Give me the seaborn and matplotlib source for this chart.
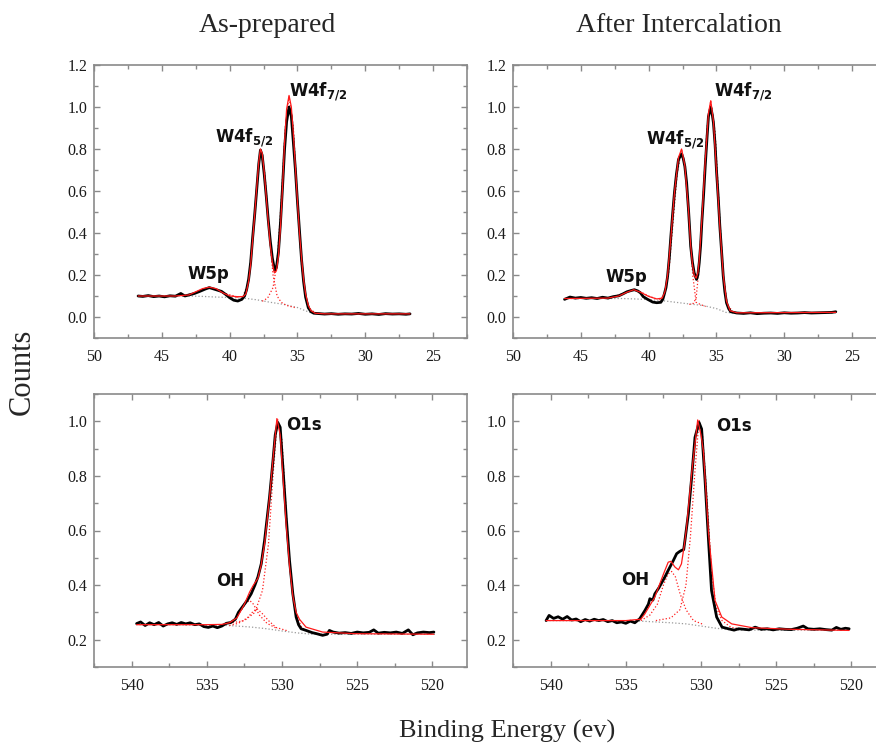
import matplotlib
matplotlib.use("Agg")
import matplotlib.pyplot as plt
import seaborn as sns
import pandas as pd
from matplotlib.ticker import MultipleLocator

# ---------------- data ----------------
panel_titles = ["As-prepared", "After Intercalation"]
x_label = "Binding Energy (ev)"
y_label = "Counts"

w_xticks = [50, 45, 40, 35, 30, 25]
w_yticks = [0.0, 0.2, 0.4, 0.6, 0.8, 1.0, 1.2]
o_xticks = [540, 535, 530, 525, 520]
o_yticks = [0.2, 0.4, 0.6, 0.8, 1.0]

# W4f region, as-prepared: measured counts (black)
tl_counts = [(46.75, 0.100), (46.4, 0.098), (46.0, 0.102), (45.6, 0.097), (45.2, 0.100),
             (44.8, 0.096), (44.4, 0.101), (44.0, 0.099), (43.6, 0.112), (43.3, 0.100),
             (43.0, 0.105), (42.6, 0.112), (42.2, 0.122), (41.8, 0.133), (41.5, 0.140),
             (41.2, 0.134), (40.9, 0.128), (40.6, 0.122), (40.3, 0.108), (40.0, 0.092),
             (39.7, 0.080), (39.4, 0.076), (39.1, 0.084), (38.9, 0.100), (38.75, 0.130),
             (38.6, 0.180), (38.45, 0.260), (38.3, 0.380), (38.15, 0.490), (38.0, 0.610),
             (37.85, 0.730), (37.73, 0.795), (37.6, 0.770), (37.45, 0.680), (37.3, 0.575),
             (37.15, 0.460), (37.0, 0.360), (36.85, 0.280), (36.68, 0.223), (36.55, 0.235),
             (36.4, 0.310), (36.25, 0.450), (36.1, 0.620), (35.95, 0.800), (35.8, 0.930),
             (35.62, 1.000), (35.45, 0.955), (35.3, 0.830), (35.15, 0.700), (35.0, 0.550),
             (34.85, 0.410), (34.7, 0.274), (34.55, 0.170), (34.4, 0.095), (34.2, 0.044),
             (34.0, 0.025), (33.8, 0.018), (33.4, 0.016), (33.0, 0.014), (32.5, 0.016),
             (32.0, 0.013), (31.5, 0.015), (31.0, 0.014), (30.5, 0.017), (30.0, 0.013),
             (29.5, 0.015), (29.0, 0.012), (28.5, 0.016), (28.0, 0.014), (27.5, 0.015),
             (27.0, 0.013), (26.7, 0.015)]
# fitted envelope (red)
tl_fit = [(46.75, 0.100), (44.0, 0.100), (43.0, 0.105), (42.5, 0.120), (42.0, 0.135),
          (41.5, 0.142), (41.0, 0.135), (40.5, 0.115), (40.0, 0.100), (39.5, 0.097),
          (39.0, 0.097), (38.8, 0.110), (38.6, 0.170), (38.45, 0.250), (38.3, 0.370),
          (38.15, 0.490), (38.0, 0.620), (37.85, 0.740), (37.73, 0.800), (37.6, 0.780),
          (37.45, 0.690), (37.3, 0.570), (37.15, 0.450), (37.0, 0.340), (36.85, 0.260),
          (36.7, 0.210), (36.55, 0.220), (36.4, 0.290), (36.25, 0.430), (36.1, 0.620),
          (35.95, 0.830), (35.8, 0.990), (35.62, 1.055), (35.45, 1.000), (35.3, 0.870),
          (35.15, 0.710), (35.0, 0.550), (34.85, 0.400), (34.7, 0.280), (34.55, 0.180),
          (34.4, 0.110), (34.2, 0.055), (34.0, 0.030), (33.7, 0.018), (33.0, 0.015),
          (26.7, 0.015)]
# fitted components (red dotted) and background (grey dotted)
tl_bg = [(46.7, 0.100), (43.0, 0.100), (42.0, 0.098), (41.0, 0.095), (40.0, 0.093),
         (39.0, 0.090), (38.0, 0.082), (37.0, 0.070), (36.0, 0.060), (35.0, 0.045),
         (34.5, 0.032), (34.0, 0.020), (33.0, 0.015), (26.7, 0.015)]
tl_w5p = [(43.5, 0.100), (42.5, 0.115), (42.0, 0.130), (41.5, 0.140), (41.0, 0.130),
          (40.5, 0.115), (39.5, 0.097)]
tl_w4f52 = [(39.5, 0.093), (39.0, 0.100), (38.6, 0.170), (38.3, 0.380), (38.0, 0.620),
            (37.73, 0.800), (37.4, 0.680), (37.1, 0.420), (36.8, 0.200), (36.5, 0.100),
            (36.2, 0.070), (35.8, 0.055), (35.2, 0.045)]
tl_w4f72 = [(37.6, 0.075), (37.2, 0.090), (36.8, 0.140), (36.5, 0.260), (36.2, 0.550),
            (35.9, 0.900), (35.62, 1.050), (35.3, 0.900), (35.0, 0.550), (34.7, 0.250),
            (34.4, 0.090), (34.1, 0.040), (33.7, 0.020)]

# W4f region, after intercalation
tr_counts = [(46.2, 0.084), (45.8, 0.095), (45.4, 0.090), (45.0, 0.093), (44.6, 0.089),
             (44.2, 0.092), (43.8, 0.088), (43.4, 0.094), (43.0, 0.090), (42.6, 0.097),
             (42.2, 0.101), (41.9, 0.110), (41.6, 0.120), (41.3, 0.126), (41.05, 0.130),
             (40.8, 0.124), (40.6, 0.115), (40.4, 0.097), (40.1, 0.085), (39.7, 0.071),
             (39.4, 0.068), (39.1, 0.070), (38.95, 0.085), (38.85, 0.108), (38.72, 0.140),
             (38.6, 0.195), (38.48, 0.280), (38.36, 0.385), (38.23, 0.490), (38.1, 0.590),
             (37.95, 0.680), (37.8, 0.750), (37.57, 0.777), (37.45, 0.755), (37.33, 0.717),
             (37.2, 0.640), (37.05, 0.500), (36.9, 0.337), (36.77, 0.260), (36.64, 0.210),
             (36.47, 0.179), (36.37, 0.200), (36.27, 0.258), (36.17, 0.340), (36.08, 0.448),
             (35.95, 0.580), (35.83, 0.717), (35.7, 0.850), (35.59, 0.955), (35.42, 1.000),
             (35.3, 0.960), (35.22, 0.923), (35.1, 0.820), (35.0, 0.700), (34.87, 0.570),
             (34.75, 0.432), (34.62, 0.310), (34.5, 0.195), (34.38, 0.120), (34.26, 0.068),
             (34.1, 0.040), (33.95, 0.025), (33.5, 0.019), (33.0, 0.017), (32.5, 0.020),
             (32.0, 0.016), (31.5, 0.018), (31.0, 0.019), (30.5, 0.017), (30.0, 0.020),
             (29.5, 0.018), (29.0, 0.019), (28.5, 0.021), (28.0, 0.019), (27.5, 0.020),
             (27.0, 0.021), (26.5, 0.022), (26.2, 0.025)]
tr_fit = [(46.2, 0.088), (43.0, 0.090), (42.2, 0.100), (41.6, 0.118), (41.1, 0.130),
          (40.6, 0.118), (40.0, 0.098), (39.4, 0.086), (39.0, 0.090), (38.8, 0.120),
          (38.6, 0.200), (38.36, 0.380), (38.1, 0.590), (37.8, 0.760), (37.57, 0.800),
          (37.33, 0.720), (37.05, 0.500), (36.9, 0.340), (36.77, 0.250), (36.64, 0.200),
          (36.5, 0.185), (36.37, 0.210), (36.27, 0.270), (36.08, 0.460), (35.83, 0.740),
          (35.59, 0.970), (35.42, 1.030), (35.22, 0.930), (35.0, 0.700), (34.75, 0.430),
          (34.5, 0.200), (34.26, 0.075), (34.0, 0.030), (33.5, 0.020), (26.2, 0.022)]
tr_bg = [(46.2, 0.088), (42.0, 0.088), (41.0, 0.086), (40.0, 0.083), (39.0, 0.078),
         (38.0, 0.070), (37.0, 0.062), (36.0, 0.055), (35.0, 0.040), (34.3, 0.022),
         (33.5, 0.018), (26.2, 0.020)]
tr_w5p = [(43.0, 0.090), (42.2, 0.105), (41.6, 0.120), (41.1, 0.130), (40.6, 0.120),
          (40.0, 0.100), (39.4, 0.085)]
tr_w4f52 = [(39.2, 0.080), (38.8, 0.110), (38.5, 0.220), (38.2, 0.450), (37.9, 0.680),
            (37.57, 0.800), (37.3, 0.700), (37.0, 0.450), (36.75, 0.200), (36.5, 0.070),
            (36.2, 0.060), (35.8, 0.050)]
tr_w4f72 = [(37.0, 0.060), (36.7, 0.065), (36.5, 0.090), (36.3, 0.220), (36.0, 0.550),
            (35.7, 0.900), (35.42, 1.030), (35.1, 0.880), (34.8, 0.520), (34.5, 0.200),
            (34.2, 0.060), (33.8, 0.025)]

# O1s region, as-prepared
bl_counts = [(539.67, 0.259), (539.4, 0.265), (539.1, 0.252), (538.8, 0.262), (538.5, 0.255),
             (538.2, 0.263), (537.9, 0.250), (537.6, 0.258), (537.3, 0.262), (537.0, 0.256),
             (536.7, 0.263), (536.4, 0.258), (536.1, 0.262), (535.8, 0.255), (535.5, 0.258),
             (535.2, 0.248), (534.9, 0.245), (534.6, 0.250), (534.3, 0.244), (534.0, 0.250),
             (533.7, 0.260), (533.4, 0.263), (533.1, 0.275), (532.9, 0.300), (532.7, 0.315),
             (532.5, 0.330), (532.3, 0.345), (532.05, 0.368), (531.8, 0.400), (531.6, 0.430),
             (531.38, 0.478), (531.16, 0.563), (531.0, 0.640), (530.83, 0.722), (530.6, 0.856),
             (530.45, 0.950), (530.28, 0.996), (530.12, 0.978), (530.0, 0.880), (529.94, 0.832),
             (529.72, 0.649), (529.5, 0.490), (529.28, 0.368), (529.06, 0.283), (528.9, 0.255),
             (528.73, 0.240), (528.4, 0.234), (528.0, 0.226), (527.7, 0.222), (527.3, 0.216),
             (527.0, 0.220), (526.85, 0.234), (526.6, 0.228), (526.2, 0.224), (525.8, 0.226),
             (525.4, 0.223), (525.0, 0.228), (524.6, 0.225), (524.2, 0.227), (523.9, 0.236),
             (523.6, 0.224), (523.2, 0.227), (522.8, 0.225), (522.4, 0.228), (522.0, 0.223),
             (521.6, 0.236), (521.3, 0.218), (521.0, 0.225), (520.6, 0.228), (520.2, 0.226),
             (519.9, 0.228)]
bl_fit = [(539.67, 0.255), (535.0, 0.255), (534.0, 0.256), (533.5, 0.262), (533.0, 0.280),
          (532.8, 0.300), (532.5, 0.330), (532.15, 0.375), (531.9, 0.400), (531.6, 0.425),
          (531.4, 0.470), (531.16, 0.550), (530.83, 0.720), (530.6, 0.860), (530.34, 1.010),
          (530.12, 0.950), (529.94, 0.800), (529.72, 0.620), (529.5, 0.470), (529.28, 0.360),
          (529.06, 0.300), (528.84, 0.275), (528.4, 0.246), (527.3, 0.228), (525.1, 0.222),
          (519.9, 0.220)]
bl_bg = [(539.7, 0.255), (534.0, 0.253), (533.0, 0.250), (532.0, 0.246), (531.0, 0.240),
         (530.0, 0.232), (529.0, 0.225), (528.0, 0.220), (527.0, 0.220), (519.8, 0.220)]
bl_o1s = [(533.5, 0.260), (532.5, 0.270), (531.8, 0.300), (531.3, 0.380), (530.9, 0.550),
          (530.6, 0.800), (530.3, 1.010), (530.0, 0.930), (529.7, 0.650), (529.4, 0.420),
          (529.1, 0.300), (528.7, 0.245), (528.2, 0.228), (527.5, 0.222)]
bl_oh1 = [(534.0, 0.255), (533.3, 0.265), (532.8, 0.300), (532.4, 0.335), (532.15, 0.344),
          (531.9, 0.330), (531.5, 0.290), (531.0, 0.260), (530.3, 0.240)]
bl_oh2 = [(533.5, 0.252), (532.9, 0.260), (532.3, 0.280), (531.9, 0.305), (531.65, 0.313),
          (531.3, 0.295), (530.9, 0.270), (530.4, 0.245), (529.6, 0.232)]

# O1s region, after intercalation
br_counts = [(540.3, 0.270), (540.1, 0.289), (539.8, 0.278), (539.5, 0.284), (539.2, 0.275),
             (538.9, 0.285), (538.6, 0.272), (538.3, 0.276), (538.0, 0.266), (537.7, 0.274),
             (537.4, 0.268), (537.1, 0.275), (536.8, 0.270), (536.5, 0.274), (536.2, 0.266),
             (535.9, 0.270), (535.6, 0.262), (535.3, 0.265), (535.0, 0.260), (534.7, 0.268),
             (534.4, 0.262), (534.07, 0.277), (533.73, 0.307), (533.5, 0.330), (533.4, 0.350),
             (533.2, 0.345), (533.07, 0.368), (532.8, 0.390), (532.6, 0.410), (532.4, 0.430),
             (532.18, 0.454), (531.84, 0.490), (531.62, 0.515), (531.45, 0.522), (531.3, 0.527),
             (531.15, 0.530), (531.07, 0.563), (530.84, 0.661), (530.62, 0.795), (530.4, 0.941),
             (530.13, 0.996), (529.96, 0.972), (529.73, 0.783), (529.5, 0.563), (529.3, 0.380),
             (528.96, 0.283), (528.6, 0.246), (528.18, 0.240), (527.8, 0.235), (527.5, 0.240),
             (527.1, 0.238), (526.8, 0.236), (526.4, 0.246), (526.0, 0.238), (525.6, 0.240),
             (525.2, 0.236), (524.8, 0.240), (524.4, 0.238), (524.0, 0.237), (523.6, 0.242),
             (523.2, 0.250), (522.9, 0.240), (522.5, 0.238), (522.1, 0.240), (521.7, 0.237),
             (521.3, 0.235), (521.0, 0.245), (520.7, 0.238), (520.4, 0.242), (520.15, 0.240)]
br_fit = [(540.3, 0.270), (535.0, 0.270), (534.0, 0.275), (533.73, 0.295), (533.07, 0.356),
          (532.5, 0.440), (532.18, 0.484), (532.0, 0.487), (531.73, 0.466), (531.5, 0.456),
          (531.3, 0.478), (531.1, 0.550), (530.96, 0.612), (530.62, 0.810), (530.22, 1.005),
          (530.0, 0.950), (529.84, 0.890), (529.5, 0.590), (529.07, 0.344), (528.62, 0.283),
          (527.96, 0.258), (526.6, 0.244), (524.0, 0.238), (520.15, 0.234)]
br_bg = [(540.3, 0.270), (534.0, 0.268), (533.0, 0.265), (532.0, 0.262), (531.0, 0.258),
         (530.0, 0.250), (529.0, 0.242), (528.0, 0.236), (527.0, 0.235), (520.1, 0.235)]
br_o1s = [(533.0, 0.270), (532.0, 0.280), (531.4, 0.310), (531.0, 0.400), (530.7, 0.580),
          (530.4, 0.820), (530.13, 1.005), (529.9, 0.950), (529.6, 0.720), (529.3, 0.450),
          (529.0, 0.320), (528.6, 0.270), (528.0, 0.245), (527.0, 0.237)]
br_oh = [(534.0, 0.270), (533.4, 0.290), (532.9, 0.330), (532.5, 0.400), (532.2, 0.440),
         (531.95, 0.450), (531.7, 0.430), (531.4, 0.370), (531.0, 0.310), (530.5, 0.270),
         (529.8, 0.255)]

# peak labels: (text, x, y)
tl_labels = [("W4f$_{\\mathregular{7/2}}$", 35.6, 1.05), ("W4f$_{\\mathregular{5/2}}$", 41.1, 0.83),
             ("W5p", 43.1, 0.18)]
tr_labels = [("W4f$_{\\mathregular{7/2}}$", 35.2, 1.05), ("W4f$_{\\mathregular{5/2}}$", 40.2, 0.82),
             ("W5p", 43.2, 0.167)]
bl_labels = [("O1s", 529.7, 0.967), ("OH", 534.4, 0.398)]
br_labels = [("O1s", 529.0, 0.966), ("OH", 535.3, 0.40)]

# ---------------- styling ----------------
sns.set_theme(style="ticks")
plt.rcParams["font.family"] = ["Liberation Serif", "DejaVu Serif"]

SPINE = "#8a8a8a"
fig = plt.figure(figsize=(8.76, 7.48), dpi=100)

W, H = 876.0, 748.0
def place(left_px, top_px, w_px=373, h_px=273):
    return fig.add_axes([left_px / W, 1 - (top_px + h_px) / H, w_px / W, h_px / H])

ax_tl = place(94, 65)
ax_tr = place(513, 65)
ax_bl = place(94, 394)
ax_br = place(513, 394)


def curve(ax, pts, **kw):
    df = pd.DataFrame(pts, columns=["be", "cnt"])
    sns.lineplot(data=df, x="be", y="cnt", ax=ax, sort=False, estimator=None, **kw)


def draw(ax, counts, fit, bg, comps, labels, xlim, ylim, xticks, yticks, yminor):
    curve(ax, bg, color="#9a9a9a", lw=0.9, linestyle=":")
    for c in comps:
        curve(ax, c, color="#ff2020", lw=0.9, linestyle=":")
    curve(ax, counts, color="black", lw=2.0)
    curve(ax, fit, color="#ff1a1a", lw=0.9)
    ax.set_xlim(*xlim)
    ax.set_ylim(*ylim)
    ax.set_xticks(xticks)
    ax.set_yticks(yticks)
    ax.set_yticklabels([f"{v:.1f}" for v in yticks])
    ax.set_xticklabels([str(v) for v in xticks])
    ax.xaxis.set_minor_locator(MultipleLocator(2.5))
    ax.yaxis.set_minor_locator(MultipleLocator(yminor))
    ax.set_xlabel("")
    ax.set_ylabel("")
    for s in ax.spines.values():
        s.set_visible(True)
        s.set_color(SPINE)
        s.set_linewidth(1.2)
    ax.tick_params(which="both", direction="in", top=True, right=True,
                   color=SPINE, width=1.0, labelsize=11.5, labelcolor="#1a1a1a")
    ax.tick_params(which="major", length=4.5)
    ax.tick_params(which="minor", length=3)
    ax.tick_params(axis="x", which="major", pad=8)
    ax.tick_params(axis="y", which="major", pad=5)
    for txt, x, y in labels:
        ax.text(x, y, txt, ha="left", va="baseline", fontsize=12, fontweight="bold",
                family=["DejaVu Sans"], color="#111111")


draw(ax_tl, tl_counts, tl_fit, tl_bg, [tl_w5p, tl_w4f52, tl_w4f72], tl_labels,
     (50, 22.5), (-0.1, 1.2), w_xticks, w_yticks, 0.1)
draw(ax_tr, tr_counts, tr_fit, tr_bg, [tr_w5p, tr_w4f52, tr_w4f72], tr_labels,
     (50, 22.5), (-0.1, 1.2), w_xticks, w_yticks, 0.1)
draw(ax_bl, bl_counts, bl_fit, bl_bg, [bl_o1s, bl_oh1, bl_oh2], bl_labels,
     (542.5, 517.7), (0.1, 1.1), o_xticks, o_yticks, 0.1)
draw(ax_br, br_counts, br_fit, br_bg, [br_o1s, br_oh], br_labels,
     (542.5, 517.7), (0.1, 1.1), o_xticks, o_yticks, 0.1)

# titles and shared labels
fig.text(267 / W, 1 - 32 / H, panel_titles[0], ha="center", va="baseline", fontsize=20)
fig.text(679 / W, 1 - 32 / H, panel_titles[1], ha="center", va="baseline", fontsize=20)
fig.text(22 / W, 1 - 372 / H, y_label, ha="center", va="center", rotation=90, fontsize=22)
fig.text(507 / W, 1 - 738 / H, x_label, ha="center", va="baseline", fontsize=19)

fig.savefig("out.png", dpi=100)
